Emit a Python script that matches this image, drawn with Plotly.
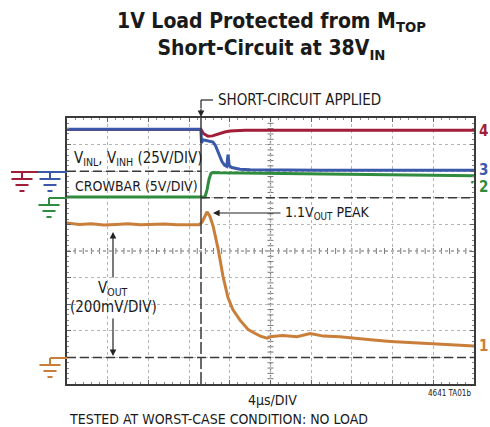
import plotly.graph_objects as go

# ---------------- data (time in µs, 4 µs/DIV) ----------------
t_short = 13.17  # short-circuit applied

# Channel 1: VOUT (V), 200 mV/DIV
t_vout = [0, 1.2, 2.4, 3.6, 4.8, 6.0, 7.2, 8.4, 9.6, 10.8, 12.0, 13.0, 13.3, 13.76,
          14.05, 14.35, 14.84, 15.33, 15.82, 16.3, 17.0, 17.8, 18.5, 19.0, 19.66,
          20.15, 21.2, 22.6, 23.9, 25.2, 26.8, 28.5, 30.1, 31.8, 33.4, 35.0, 36.7,
          38.3, 40.0]
vout = [1.01, 1.0, 1.005, 0.995, 1.0, 1.005, 0.998, 1.0, 1.003, 0.997, 0.995, 0.998,
        1.02, 1.095, 1.06, 0.99, 0.82, 0.61, 0.45, 0.36, 0.28, 0.21, 0.18, 0.16,
        0.145, 0.158, 0.165, 0.155, 0.18, 0.16, 0.155, 0.14, 0.13, 0.12, 0.113,
        0.105, 0.098, 0.09, 0.085]

# Channel 4: VINH (V), 25 V/DIV
t_vinh = [0, 13.17, 13.4, 13.86, 14.3, 14.84, 15.5, 16.0, 16.5, 17.5, 20, 25, 30, 35, 40]
vinh = [39.3, 39.3, 35.5, 32.8, 33.2, 35.0, 36.8, 37.8, 38.3, 38.6, 38.6, 38.5, 38.6,
        38.5, 38.6]

# Channel 3: VINL (V), 25 V/DIV
t_vinl = [0, 4, 8, 12, 13.12, 13.17, 13.22, 13.35, 13.8, 14.35, 14.6, 14.84, 15.04,
          15.23, 15.5, 15.7, 15.82, 15.95, 16.2, 16.6, 17.0, 18, 20, 25, 30, 35, 40]
vinl = [39.4, 39.5, 39.4, 39.5, 39.4, 37, 26.5, 29.5, 28.5, 27.3, 24, 18.5, 13.5, 9,
        5.5, 4.5, 15.5, 5, 3.5, 2.5, 1.9, 1.3, 1.0, 0.9, 1.0, 0.9, 1.0]

# Channel 2: CROWBAR (V), 5 V/DIV
t_crow = [0, 6, 12, 13.56, 13.76, 13.96, 14.15, 14.4, 15, 17, 20, 25, 30, 35, 40]
crow = [0.15, 0.15, 0.15, 0.15, 1.5, 3.5, 4.6, 4.75, 4.7, 4.65, 4.6, 4.5, 4.4, 4.3, 4.15]

# ---------------- styling ----------------
W, H = 490, 427
L, R, T, B = 67, 474, 118, 384
FONT = "Liberation Sans Narrow, DejaVu Sans Condensed, Arial Narrow, sans-serif"
RED, BLUE, GREEN, ORANGE = "#a11d38", "#3b59aa", "#2f8b3e", "#c97f3a"
DARK = "#3a3a3a"


def px(x):
    return (x - L) / (R - L)


def py(y):
    return (B - y) / (B - T)


fig = go.Figure()
fig.add_trace(go.Scatter(x=t_vinh, y=vinh, yaxis="y2", mode="lines",
                         line=dict(color=RED, width=3)))
fig.add_trace(go.Scatter(x=t_crow, y=crow, yaxis="y3", mode="lines",
                         line=dict(color=GREEN, width=3)))
fig.add_trace(go.Scatter(x=t_vinl, y=vinl, yaxis="y2", mode="lines",
                         line=dict(color=BLUE, width=3)))
fig.add_trace(go.Scatter(x=t_vout, y=vout, yaxis="y", mode="lines",
                         line=dict(color=ORANGE, width=3)))

shapes = []
# center cross lines
shapes.append(dict(type="line", xref="x", yref="paper", x0=20, x1=20, y0=0, y1=1,
                   line=dict(color="#707070", width=1.2, dash="dot"), layer="below"))
shapes.append(dict(type="line", xref="paper", yref="y", x0=0, x1=1, y0=0.8, y1=0.8,
                   line=dict(color="#707070", width=1.2, dash="dot"), layer="below"))
# tick marks on center lines
for i in range(1, 50):
    tx = i * 0.8
    shapes.append(dict(type="line", xref="x", yref="paper", x0=tx, x1=tx,
                       y0=0.5 - 3 / 266, y1=0.5 + 3 / 266,
                       line=dict(color="#777", width=1), layer="below"))
for i in range(1, 50):
    ty = -0.2 + i * 0.04
    shapes.append(dict(type="line", xref="paper", yref="y", x0=0.5 - 3 / 407,
                       x1=0.5 + 3 / 407, y0=ty, y1=ty,
                       line=dict(color="#777", width=1), layer="below"))

DASH = "9px,4px"
# ground reference lines
shapes.append(dict(type="line", xref="x", yref="y2", x0=0, x1=t_short, y0=0, y1=0,
                   line=dict(color=DARK, width=1.5, dash=DASH)))
shapes.append(dict(type="line", xref="x", yref="y3", x0=t_short, x1=40, y0=0, y1=0,
                   line=dict(color=DARK, width=1.5, dash=DASH)))
shapes.append(dict(type="line", xref="x", yref="y", x0=0, x1=40, y0=0, y1=0,
                   line=dict(color=DARK, width=1.5, dash=DASH)))
# short-circuit marker line
shapes.append(dict(type="line", xref="x", yref="paper", x0=t_short, x1=t_short,
                   y0=py(230), y1=1, line=dict(color=DARK, width=1.5)))
shapes.append(dict(type="line", xref="x", yref="paper", x0=t_short, x1=t_short,
                   y0=0, y1=py(230), line=dict(color=DARK, width=1.5, dash="12px,3px")))
# bracket to SHORT-CIRCUIT label
shapes.append(dict(type="line", xref="paper", yref="paper", x0=px(201), x1=px(213),
                   y0=py(100), y1=py(100), line=dict(color="#222", width=1.2)))
shapes.append(dict(type="line", xref="paper", yref="paper", x0=px(201), x1=px(201),
                   y0=py(100), y1=py(108), line=dict(color="#222", width=1.2)))
# small marker dot beside channel 2 label
shapes.append(dict(type="circle", xref="paper", yref="paper", x0=px(471), x1=px(473.5),
                   y0=py(181), y1=py(183.5), fillcolor=GREEN, line=dict(width=0)))


def ground(xs, yg, xl, xr, color):
    s = [dict(type="line", xref="paper", yref="paper", x0=px(xl), x1=px(xr),
              y0=py(yg), y1=py(yg), line=dict(color=color, width=2)),
         dict(type="line", xref="paper", yref="paper", x0=px(xs), x1=px(xs),
              y0=py(yg), y1=py(yg + 7), line=dict(color=color, width=2))]
    for off, w in ((7, 21), (13, 13), (19, 5)):
        s.append(dict(type="line", xref="paper", yref="paper", x0=px(xs - w / 2),
                      x1=px(xs + w / 2), y0=py(yg + off), y1=py(yg + off),
                      line=dict(color=color, width=2)))
    return s


shapes += ground(22, 172, 11, 38, RED)
shapes += ground(50, 172, 38, 67, BLUE)
shapes += ground(49, 198, 49, 67, GREEN)
shapes += ground(50, 358, 50, 67, ORANGE)

ann = []


def text(x, y, s, size=14, xanchor="left", color="#1a1a1a", bold=False):
    ann.append(dict(xref="paper", yref="paper", x=px(x), y=py(y), text=s,
                    showarrow=False, xanchor=xanchor, yanchor="middle",
                    font=dict(family=FONT, size=size, color=color,
                              weight="bold" if bold else "normal")))


ann.append(dict(xref="paper", yref="paper", x=px(271), y=py(7), yanchor="top",
                xanchor="center", showarrow=False,
                text="1V Load Protected from M<sub>TOP</sub><br>Short-Circuit at 38V<sub>IN</sub>",
                font=dict(family=FONT, size=21, color="#1a1a1a", weight="bold")))
text(216, 100, "SHORT-CIRCUIT APPLIED", 15)
text(72, 158, "V<sub>INL</sub>, V<sub>INH</sub> (25V/DIV)", 15)
text(73, 186, "CROWBAR (5V/DIV)", 14)
text(283, 213, "1.1V<sub>OUT</sub> PEAK", 14)
text(113, 288, "V<sub>OUT</sub>", 15, "center")
text(113, 307, "(200mV/DIV)", 15, "center")
text(272, 400, "4µs/DIV", 14, "center")
text(473, 393, "4641 TA01b", 8, "right")
text(67, 419, "TESTED AT WORST-CASE CONDITION: NO LOAD", 14)
text(477, 131, "4", 15, color=RED, bold=True)
text(477, 170, "3", 15, color=BLUE, bold=True)
text(477, 187, "2", 15, color=GREEN, bold=True)
text(477, 346, "1", 15, color=ORANGE, bold=True)


# arrows
def arrow(x_tip, y_tip, x_tail, y_tail):
    ann.append(dict(xref="paper", yref="paper", axref="pixel", ayref="pixel",
                    x=px(x_tip), y=py(y_tip), ax=x_tail - x_tip, ay=y_tail - y_tip,
                    text="", showarrow=True, arrowhead=2, arrowsize=1.1,
                    arrowwidth=1.2, arrowcolor="#222"))


arrow(201, 117, 201, 107)
arrow(213, 213, 282, 213)
arrow(113, 232, 113, 279)
arrow(113, 356, 113, 317)

axis_common = dict(showticklabels=False, showgrid=True, gridcolor="#b5b5b5",
                   griddash="dot", gridwidth=1, zeroline=False, showline=True,
                   linecolor=DARK, linewidth=1.5, mirror="ticks", ticks="inside",
                   ticklen=4, tickcolor="#666", fixedrange=True)

fig.update_layout(
    width=W, height=H, margin=dict(l=L, r=W - R, t=T, b=H - B),
    paper_bgcolor="white", plot_bgcolor="white", showlegend=False,
    xaxis=dict(range=[0, 40], dtick=4, tick0=0,
               minor=dict(ticks="inside", dtick=0.8, ticklen=2, tickcolor="#888"),
               **axis_common),
    yaxis=dict(range=[-0.2, 1.8], dtick=0.2, tick0=-0.2,
               minor=dict(ticks="inside", dtick=0.04, ticklen=2, tickcolor="#888"),
               **axis_common),
    yaxis2=dict(range=[-200, 50], overlaying="y", visible=False),
    yaxis3=dict(range=[-35, 15], overlaying="y", visible=False),
    shapes=shapes, annotations=ann,
)

fig.write_html("out.html", config={"displayModeBar": False},
               post_script="document.body.style.margin='0';")
